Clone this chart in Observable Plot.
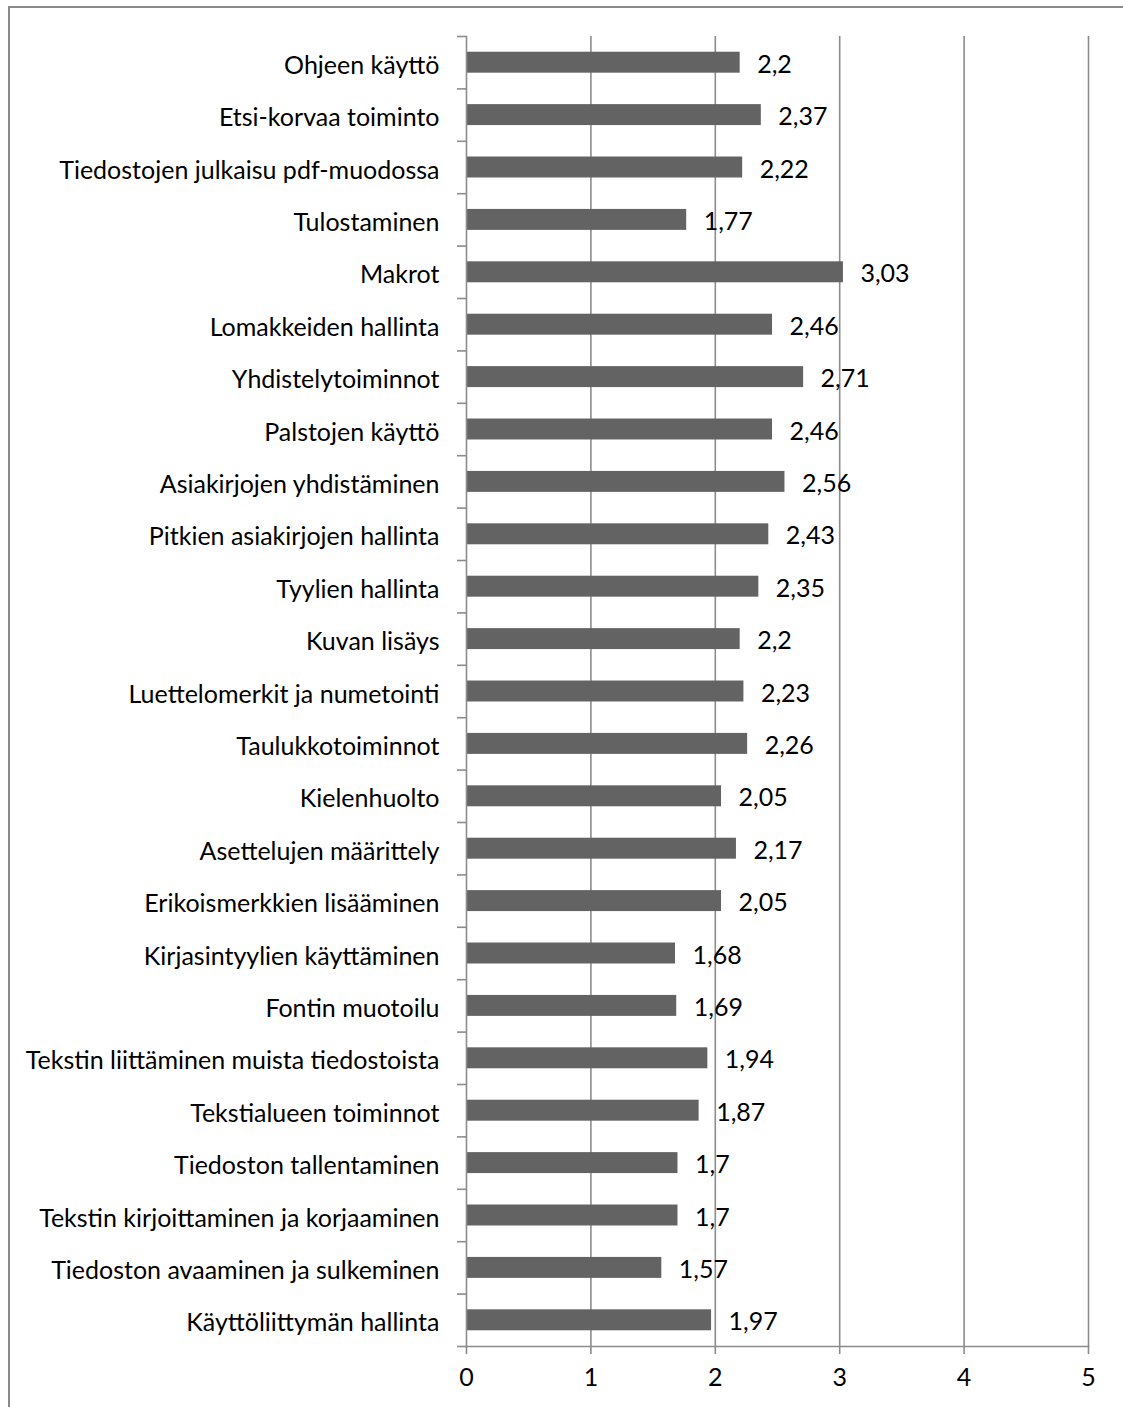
<!DOCTYPE html>
<html>
<head>
<meta charset="utf-8">
<script src="https://cdn.jsdelivr.net/npm/d3@7"></script>
<script src="https://cdn.jsdelivr.net/npm/@observablehq/plot@0.6"></script>
<style>
  html, body { margin: 0; padding: 0; background: #fff; }
  #wrap { position: relative; width: 1123px; height: 1407px; overflow: hidden; }
  #border { position: absolute; left: 8px; top: 6px; width: 1300px; height: 1600px; border: 2px solid #8a8a8a; box-sizing: border-box; }
  #chart { position: absolute; left: 0; top: 0; }
</style>
</head>
<body>
<div id="wrap"><div id="border"></div><div id="chart"></div></div>
<script>
const categories = [
  "Ohjeen käyttö",
  "Etsi-korvaa toiminto",
  "Tiedostojen julkaisu pdf-muodossa",
  "Tulostaminen",
  "Makrot",
  "Lomakkeiden hallinta",
  "Yhdistelytoiminnot",
  "Palstojen käyttö",
  "Asiakirjojen yhdistäminen",
  "Pitkien asiakirjojen hallinta",
  "Tyylien hallinta",
  "Kuvan lisäys",
  "Luettelomerkit ja numetointi",
  "Taulukkotoiminnot",
  "Kielenhuolto",
  "Asettelujen määrittely",
  "Erikoismerkkien lisääminen",
  "Kirjasintyylien käyttäminen",
  "Fontin muotoilu",
  "Tekstin liittäminen muista tiedostoista",
  "Tekstialueen toiminnot",
  "Tiedoston tallentaminen",
  "Tekstin kirjoittaminen ja korjaaminen",
  "Tiedoston avaaminen ja sulkeminen",
  "Käyttöliittymän hallinta"
];
const values = [2.2, 2.37, 2.22, 1.77, 3.03, 2.46, 2.71, 2.46, 2.56, 2.43, 2.35, 2.2, 2.23, 2.26, 2.05, 2.17, 2.05, 1.68, 1.69, 1.94, 1.87, 1.7, 1.7, 1.57, 1.97];
const xTicks = [0, 1, 2, 3, 4, 5];

const data = categories.map((c, i) => ({category: c, value: values[i]}));

const W = 1123, H = 1407;
const mt = 36, mb = 61, ml = 466, mr = 35;
const step = (H - mt - mb) / categories.length;
const grey = "#8c8c8c";
const fmt = v => String(v).replace(".", ",");
const font = "Lato, 'Open Sans', sans-serif";

const chart = Plot.plot({
  width: W,
  height: H,
  marginTop: mt,
  marginBottom: mb,
  marginLeft: ml,
  marginRight: mr,
  style: {fontFamily: font, fontSize: "25px", color: "#000", background: "transparent"},
  x: {domain: [0, 5]},
  y: {domain: categories, paddingInner: 0.6, paddingOuter: 0.3, align: 0.5, round: false},
  marks: [
    Plot.gridX(xTicks.filter(t => t > 0), {stroke: grey, strokeOpacity: 1, strokeWidth: 1.6}),
    Plot.barX(data, {x: "value", y: "category", fill: "#636363"}),
    Plot.text(data, {x: "value", y: "category", text: d => fmt(d.value), textAnchor: "start", dx: 17, dy: 2, fill: "#000", fontSize: 25}),
    Plot.axisY({tickSize: 0, tickPadding: 27, dy: 3, label: null, fontSize: 25, fill: "#000"}),
    Plot.axisY({tickSize: 9, dy: -step / 2, text: null, label: null, stroke: grey, strokeWidth: 1.6}),
    Plot.axisY([categories[categories.length - 1]], {tickSize: 9, dy: step / 2, text: null, label: null, stroke: grey, strokeWidth: 1.6}),
    Plot.axisX({ticks: xTicks, tickSize: 8, tickPadding: 14, tickFormat: d => fmt(d), label: null, stroke: grey, strokeWidth: 1.6, fontSize: 25, fill: "#000"}),
    Plot.frame({anchor: "bottom", stroke: grey, strokeWidth: 1.6}),
    Plot.frame({anchor: "left", stroke: grey, strokeWidth: 1.6})
  ]
});
document.getElementById("chart").appendChild(chart);
</script>
</body>
</html>
